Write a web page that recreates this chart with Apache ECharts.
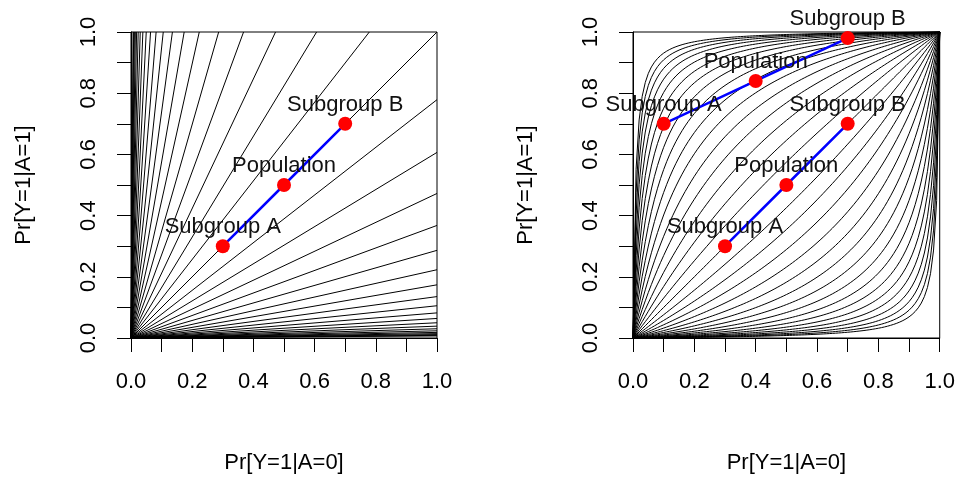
<!DOCTYPE html>
<html><head><meta charset="utf-8">
<script src="https://cdn.jsdelivr.net/npm/echarts@6/dist/echarts.min.js"></script>
<style>html,body{margin:0;padding:0;background:#fff}#c{width:958px;height:479px}</style>
</head><body><div id="c"></div>
<script>
// Contour levels: log risk ratio (left panel) and log odds ratio (right panel)
const logRiskRatioLevels = [-5,-4.75,-4.5,-4.25,-4,-3.75,-3.5,-3.25,-3,-2.75,-2.5,-2.25,-2,-1.75,-1.5,-1.25,-1,-0.75,-0.5,-0.25,0,0.25,0.5,0.75,1,1.25,1.5,1.75,2,2.25,2.5,2.75,3,3.25,3.5,3.75,4,4.25,4.5,4.75,5];
const logOddsRatioLevels = [-4.8,-4.5,-4.2,-3.9,-3.6,-3.3,-3,-2.7,-2.4,-2.1,-1.8,-1.5,-1.2,-0.9,-0.6,-0.3,0,0.3,0.6,0.9,1.2,1.5,1.8,2.1,2.4,2.7,3,3.3,3.6,3.9,4.2,4.5,4.8];
const tickLabels = ['0.0','0.2','0.4','0.6','0.8','1.0'];
const xTitle = 'Pr[Y=1|A=0]';
const yTitle = 'Pr[Y=1|A=1]';
const pointNames = ['Subgroup A','Population','Subgroup B'];
// collapsible case (RR = OR = 1)
const setOneP0 = [0.3, 0.5, 0.7];
const setOneP1 = [0.3, 0.5, 0.7];
// non-collapsible odds ratio case
const setTwoP0 = [0.1, 0.4, 0.7];
const setTwoP1 = [0.7, 0.84, 0.98];
const curveSteps = 100; // p0 sampled every 0.01 for the odds-ratio contours

const FONT = 'Liberation Sans, Arial, sans-serif';
const TXT = '#000';

const chart = echarts.init(document.getElementById('c'), null, {renderer:'canvas'});
const series = [];
function addContour(gi, pts){
  series.push({type:'line', xAxisIndex:gi, yAxisIndex:gi, data:pts, symbol:'none', showSymbol:false,
    lineStyle:{color:'#000', width:1}, silent:true, z:1, animation:false});
}
logRiskRatioLevels.forEach(L => {
  const r = Math.exp(L);
  addContour(0, [[0,0],[Math.min(1, 1/r), Math.min(1, r)]]);
});
logOddsRatioLevels.forEach(L => {
  const o = Math.exp(L);
  const pts = [];
  for (let i = 0; i <= curveSteps; i++) { const x = i / curveSteps; pts.push([x, o*x/(1 - x + o*x)]); }
  addContour(1, pts);
});
function addSet(gi, p0, p1){
  const d = p0.map((x,i)=>[x, p1[i], pointNames[i]]);
  series.push({type:'line', xAxisIndex:gi, yAxisIndex:gi, data:d, symbol:'none', showSymbol:false,
    lineStyle:{color:'#0000ff', width:2.5}, z:3, silent:true, animation:false});
  series.push({type:'scatter', xAxisIndex:gi, yAxisIndex:gi, data:d, symbol:'circle', symbolSize:14,
    itemStyle:{color:'#ff0000', opacity:1}, z:4, silent:true, animation:false, clip:false,
    label:{show:true, position:'top', distance:1, formatter:p=>p.data[2], fontSize:22, fontFamily:FONT, color:'#111'}});
}
addSet(0, setOneP0, setOneP1);
addSet(1, setOneP0, setOneP1);
addSet(1, setTwoP0, setTwoP1);

const fmt = v => { const i = Math.round(v*10); return i % 2 === 0 ? tickLabels[i/2] : ''; };
function axis(gi, isY){
  return {type:'value', gridIndex:gi, min:0, max:1, interval:0.1,
    name: isY ? yTitle : xTitle, nameLocation:'middle', nameGap: isY ? 96 : 114,
    nameTextStyle:{fontSize:22, color:TXT, fontFamily:FONT},
    axisLine:{show:true, onZero:false, lineStyle:{color:'#000', width:1}},
    axisTick:{show:true, length:14, lineStyle:{color:'#000', width:1}},
    axisLabel:{show:true, fontSize:22, color:TXT, fontFamily:FONT, margin: isY ? 31 : 33, rotate: isY ? 90 : 0,
      formatter: fmt, showMinLabel:true, showMaxLabel:true, hideOverlap:false},
    splitLine:{show:false}};
}
chart.setOption({
  animation:false,
  backgroundColor:'#fff',
  grid:[
    {left:131, top:32, width:306, height:306, show:true, borderColor:'#000', borderWidth:1, backgroundColor:'transparent'},
    {left:633, top:32, width:307, height:306, show:true, borderColor:'#000', borderWidth:1, backgroundColor:'transparent'}
  ],
  xAxis:[axis(0,false), axis(1,false)],
  yAxis:[axis(0,true), axis(1,true)],
  series: series
});
</script></body></html>
